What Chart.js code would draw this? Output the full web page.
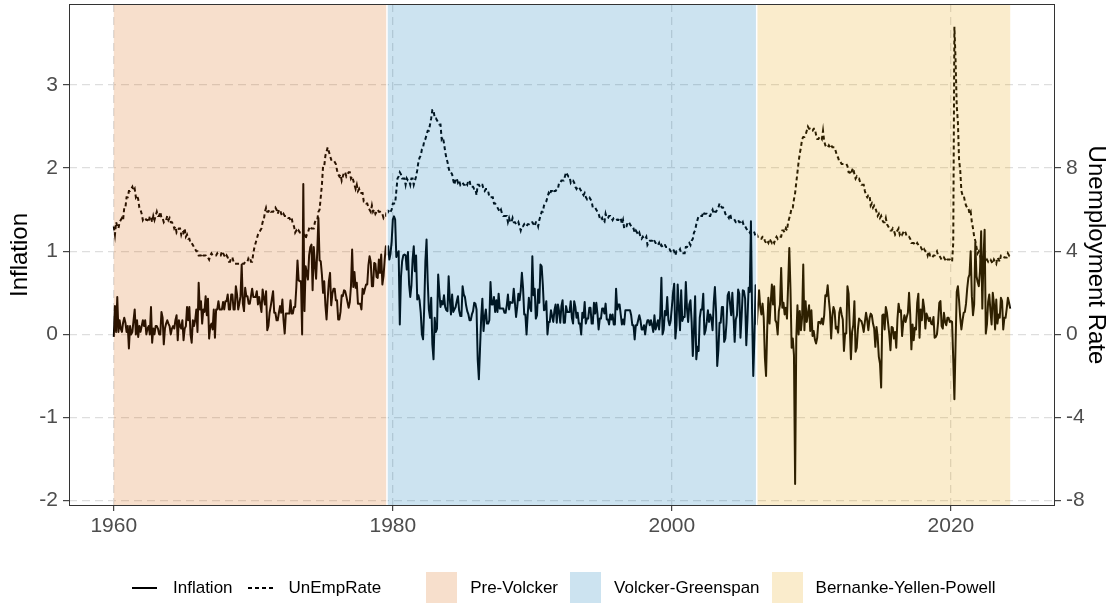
<!DOCTYPE html>
<html>
<head>
<meta charset="utf-8">
<title>Inflation and unemployment by Fed regime</title>
<script src="https://cdn.jsdelivr.net/npm/chart.js@4.4.1/dist/chart.umd.min.js"></script>
<style>
  html, body { margin: 0; padding: 0; background: #fff; }
  #wrap { position: relative; width: 1120px; height: 603px; overflow: hidden; }
  #legend {
    position: absolute; left: 132px; top: 572px; height: 31px;
    display: flex; align-items: center;
    font-family: 'Liberation Sans', Arial, Helvetica, sans-serif; font-size: 17px; color: #000;
    white-space: nowrap;
  }
  .key-line  { width: 25px; height: 2px; margin-right: 16px; }
  .solid     { background: #000; }
  .dashed    { background: repeating-linear-gradient(to right, #000 0 4px, transparent 4px 7px); }
  .key-box   { width: 31px; height: 31px; margin-right: 13px; }
  .lab-line  { margin-right: 15px; }
  .lab-box   { margin-right: 12px; }
</style>
</head>
<body>
<div id="wrap">
  <canvas id="chart"></canvas>
  <div id="legend"></div>
</div>
<script>
// ── Data ──────────────────────────────────────────────────────
// monthly series, first value = Jan 1960
const startYear = 1960;

// monthly CPI change, percent
const inflation = [
  -0.03, 0.34, 0.03, 0.45, 0.03, 0.17, 0.07, 0.03, 0.14, 0.20, 0.14, 0.03,   // 1960
  0.10, -0.17, 0.10, 0.00, 0.03, 0.17, 0.30, 0.00, 0.17, -0.03, 0.10, 0.03,  // 1961
  0.10, 0.17, 0.10, 0.17, 0.00, 0.07, 0.10, 0.00, 0.33, -0.10, 0.07, 0.00,   // 1962
  0.10, 0.10, 0.07, 0.00, 0.00, 0.27, 0.20, -0.12, 0.07, 0.13, 0.17, 0.13,   // 1963
  0.10, 0.00, 0.07, 0.10, 0.07, 0.17, 0.23, -0.07, 0.17, 0.10, 0.07, 0.17,   // 1964
  -0.07, 0.07, 0.10, 0.33, 0.17, 0.33, 0.00, -0.10, 0.17, 0.10, 0.17, 0.30,  // 1965
  0.03, 0.62, 0.30, 0.40, 0.13, 0.30, 0.27, 0.46, 0.23, 0.43, -0.05, 0.10,   // 1966
  0.13, 0.06, 0.30, -0.04, 0.30, 0.30, 0.40, 0.30, 0.30, 0.30, 0.39, 0.30,   // 1967
  0.40, 0.40, 0.48, 0.30, 0.30, 0.48, 0.48, 0.30, 0.30, 0.58, 0.48, 0.30,    // 1968
  0.37, 0.46, 0.84, 0.37, 0.28, 0.56, 0.46, 0.46, 0.37, 0.37, 0.46, 0.55,    // 1969
  0.45, 0.45, 0.45, 0.52, 0.36, 0.45, 0.36, 0.27, 0.54, 0.44, 0.36, 0.52,    // 1970
  0.05, 0.10, 0.26, 0.34, 0.43, 0.52, 0.26, 0.26, 0.17, 0.17, 0.26, 0.34,    // 1971
  0.26, 0.42, 0.17, 0.01, 0.25, 0.25, 0.25, 0.25, 0.41, 0.25, 0.25, 0.33,    // 1972
  0.33, 0.57, 0.89, 0.65, 0.64, 0.64, 0.00, 1.81, 0.28, 0.82, 0.74, 0.66,    // 1973
  0.95, 1.05, 1.08, 0.53, 1.05, 0.84, 0.67, 1.00, 1.40, 0.89, 0.88, 0.72,    // 1974
  0.50, 0.64, 0.35, 0.18, 0.43, 0.64, 0.74, 0.35, 0.49, 0.55, 0.55, 0.41,    // 1975
  0.41, 0.18, 0.18, 0.27, 0.47, 0.46, 0.53, 0.52, 0.46, 0.39, 0.32, 0.39,    // 1976
  0.58, 1.02, 0.57, 0.75, 0.56, 0.62, 0.37, 0.37, 0.37, 0.30, 0.55, 0.49,    // 1977
  0.55, 0.60, 0.60, 0.83, 0.94, 0.87, 0.58, 0.58, 0.86, 0.85, 0.69, 0.68,    // 1978
  0.90, 0.74, 0.96, 0.60, 0.70, 0.90, 1.06, 0.96, 1.06, 0.90, 0.97, 1.12,    // 1979
  1.38, 1.42, 1.38, 0.93, 0.97, 1.00, 0.12, 0.69, 0.88, 0.95, 0.96, 0.95,    // 1980
  0.78, 0.99, 0.60, 0.45, 0.59, 0.90, 1.06, 0.76, 0.95, 0.42, 0.47, 0.41,    // 1981
  0.26, 0.00, -0.06, 0.32, 0.88, 1.14, 0.64, 0.30, 0.20, 0.44, -0.12, -0.30, // 1982
  0.20, 0.03, 0.07, 0.72, 0.51, 0.33, 0.40, 0.36, 0.47, 0.33, 0.29, 0.28,    // 1983
  0.70, 0.42, 0.24, 0.48, 0.27, 0.30, 0.33, 0.40, 0.46, 0.29, 0.22, 0.22,    // 1984
  0.58, 0.48, 0.45, 0.35, 0.28, 0.24, 0.17, 0.17, 0.24, 0.28, 0.38, 0.37,    // 1985
  0.30, -0.30, -0.54, -0.17, 0.20, 0.43, 0.04, 0.20, 0.30, 0.13, 0.13, 0.17, // 1986
  0.63, 0.36, 0.36, 0.45, 0.27, 0.41, 0.27, 0.49, 0.31, 0.31, 0.31, 0.31,    // 1987
  0.26, 0.26, 0.35, 0.48, 0.30, 0.39, 0.38, 0.38, 0.55, 0.38, 0.21, 0.33,    // 1988
  0.49, 0.41, 0.53, 0.74, 0.56, 0.24, 0.24, 0.00, 0.24, 0.44, 0.32, 0.28,    // 1989
  0.94, 0.47, 0.55, 0.19, 0.23, 0.54, 0.38, 0.84, 0.82, 0.60, 0.29, 0.30,    // 1990
  0.40, 0.00, 0.15, 0.15, 0.29, 0.22, 0.15, 0.29, 0.36, 0.14, 0.36, 0.28,    // 1991
  0.14, 0.34, 0.41, 0.14, 0.14, 0.34, 0.27, 0.27, 0.27, 0.40, 0.20, 0.13,    // 1992
  0.40, 0.33, 0.20, 0.26, 0.13, 0.13, 0.00, 0.26, 0.20, 0.39, 0.13, 0.19,    // 1993
  0.19, 0.32, 0.32, 0.13, 0.13, 0.38, 0.25, 0.38, 0.25, 0.06, 0.19, 0.19,    // 1994
  0.31, 0.31, 0.25, 0.37, 0.18, 0.18, 0.12, 0.24, 0.18, 0.24, 0.12, 0.12,    // 1995
  0.55, 0.30, 0.36, 0.36, 0.24, 0.12, 0.18, 0.12, 0.29, 0.29, 0.29, 0.29,    // 1996
  0.29, 0.23, 0.11, 0.11, -0.06, 0.11, 0.11, 0.17, 0.23, 0.17, 0.06, 0.06,   // 1997
  0.11, 0.00, 0.11, 0.17, 0.17, 0.11, 0.17, 0.11, 0.03, 0.23, 0.06, 0.11,    // 1998
  0.17, 0.06, 0.23, 0.68, 0.00, 0.06, 0.28, 0.23, 0.45, 0.17, 0.11, 0.17,    // 1999
  0.33, 0.50, 0.61, -0.05, 0.11, 0.60, 0.32, 0.05, 0.53, 0.16, 0.21, 0.21,   // 2000
  0.63, 0.31, 0.15, 0.36, 0.41, 0.15, -0.26, 0.05, 0.46, -0.30, -0.15, -0.20, // 2001
  0.20, 0.30, 0.30, 0.49, 0.00, 0.05, 0.15, 0.29, 0.15, 0.24, 0.19, 0.05,    // 2002
  0.38, 0.57, 0.28, -0.38, -0.19, 0.14, 0.14, 0.33, 0.33, -0.09, -0.05, 0.14, // 2003
  0.47, 0.51, 0.37, 0.23, 0.50, 0.23, -0.09, 0.18, 0.23, 0.54, 0.49, -0.04,  // 2004
  0.22, 0.53, 0.52, 0.43, -0.13, 0.17, 0.56, 0.51, 1.36, 0.25, -0.50, -0.04, // 2005
  0.59, 0.12, 0.33, 0.53, 0.33, 0.24, 0.37, 0.20, -0.28, -0.50, 0.07, 0.44,  // 2006
  0.13, 0.38, 0.60, 0.36, 0.58, 0.17, 0.14, 0.00, 0.28, 0.36, 0.80, 0.32,    // 2007
  0.38, 0.24, 0.32, 0.19, 0.60, 1.04, 0.55, -0.16, -0.05, -0.25, -1.80, -0.05, // 2008
  0.35, 0.00, 0.28, 0.05, 0.20, 0.84, 0.05, 0.40, 0.15, 0.25, 0.35, 0.04,    // 2009
  0.29, -0.02, 0.04, -0.06, -0.11, -0.04, 0.15, 0.15, 0.13, 0.19, 0.12, 0.23, // 2010
  0.47, 0.46, 0.59, 0.42, 0.27, -0.05, 0.22, 0.33, 0.28, 0.07, 0.09, 0.02,   // 2011
  0.26, 0.32, 0.24, 0.18, -0.20, 0.01, 0.01, 0.58, 0.49, 0.08, -0.30, 0.03,  // 2012
  0.11, 0.40, -0.21, -0.16, 0.06, 0.19, 0.17, 0.16, 0.11, 0.03, 0.15, 0.26,  // 2013
  0.17, 0.05, 0.19, 0.25, 0.23, 0.13, 0.07, -0.15, 0.09, -0.03, -0.27, -0.35, // 2014
  -0.64, 0.23, 0.24, 0.06, 0.33, 0.26, 0.13, 0.00, -0.19, 0.09, 0.08, -0.05, // 2015
  0.03, -0.16, 0.18, 0.37, 0.27, 0.29, -0.02, 0.14, 0.23, 0.15, 0.21, 0.26,  // 2016
  0.50, 0.24, -0.18, 0.12, -0.07, 0.08, 0.06, 0.38, 0.49, -0.04, 0.30, 0.17, // 2017
  0.42, 0.32, 0.07, 0.25, 0.21, 0.16, 0.20, 0.13, 0.12, 0.21, -0.04, -0.03,  // 2018
  0.00, 0.15, 0.38, 0.40, 0.10, 0.07, 0.26, 0.15, 0.11, 0.20, 0.20, 0.15,    // 2019
  0.16, 0.15, -0.30, -0.78, -0.12, 0.51, 0.58, 0.41, 0.20, 0.06, 0.17, 0.26, // 2020
  0.27, 0.37, 0.55, 0.68, 0.72, 1.00, 0.46, 0.23, 0.36, 1.10, 0.70, 0.63,    // 2021
  0.58, 0.76, 1.24, 0.31, 0.92, 1.26, 0.01, 0.12, 0.39, 0.48, 0.28, 0.12,    // 2022
  0.50, 0.37, 0.06, 0.42, 0.13, 0.24, 0.20, 0.44, 0.40, 0.06, 0.20, 0.20,    // 2023
  0.31, 0.44, 0.38, 0.31,                                                    // 2024
];

// civilian unemployment rate, percent (right axis)
const unempRate = [
  5.2, 4.8, 5.4, 5.2, 5.1, 5.4, 5.5, 5.6, 5.5, 6.1, 6.1, 6.6,        // 1960
  6.6, 6.9, 6.9, 7.0, 7.1, 6.9, 7.0, 6.6, 6.7, 6.5, 6.1, 6.0,        // 1961
  5.8, 5.5, 5.6, 5.6, 5.5, 5.5, 5.4, 5.7, 5.6, 5.4, 5.7, 5.5,        // 1962
  5.7, 5.9, 5.7, 5.7, 5.9, 5.6, 5.6, 5.4, 5.5, 5.5, 5.7, 5.5,        // 1963
  5.6, 5.4, 5.4, 5.3, 5.1, 5.2, 4.9, 5.0, 5.1, 5.1, 4.8, 5.0,        // 1964
  4.9, 5.1, 4.7, 4.8, 4.6, 4.6, 4.4, 4.4, 4.3, 4.2, 4.1, 4.0,        // 1965
  4.0, 3.8, 3.8, 3.8, 3.9, 3.8, 3.8, 3.8, 3.7, 3.7, 3.6, 3.8,        // 1966
  3.9, 3.8, 3.8, 3.8, 3.8, 3.9, 3.8, 3.8, 3.8, 4.0, 3.9, 3.8,        // 1967
  3.7, 3.8, 3.7, 3.5, 3.5, 3.7, 3.7, 3.5, 3.4, 3.4, 3.4, 3.4,        // 1968
  3.4, 3.4, 3.4, 3.4, 3.4, 3.5, 3.5, 3.5, 3.7, 3.7, 3.5, 3.5,        // 1969
  3.9, 4.2, 4.4, 4.6, 4.8, 4.9, 5.0, 5.1, 5.4, 5.5, 5.9, 6.1,        // 1970
  5.9, 5.9, 6.0, 5.9, 5.9, 5.9, 6.0, 6.1, 6.0, 5.8, 6.0, 6.0,        // 1971
  5.8, 5.7, 5.8, 5.7, 5.7, 5.7, 5.6, 5.6, 5.5, 5.6, 5.3, 5.2,        // 1972
  4.9, 5.0, 4.9, 5.0, 4.9, 4.9, 4.8, 4.8, 4.8, 4.6, 4.8, 4.9,        // 1973
  5.1, 5.2, 5.1, 5.1, 5.1, 5.4, 5.5, 5.5, 5.9, 6.0, 6.6, 7.2,        // 1974
  8.1, 8.1, 8.6, 8.8, 9.0, 8.8, 8.6, 8.4, 8.4, 8.4, 8.3, 8.2,        // 1975
  7.9, 7.7, 7.6, 7.7, 7.4, 7.6, 7.8, 7.8, 7.6, 7.7, 7.8, 7.8,        // 1976
  7.5, 7.6, 7.4, 7.2, 7.0, 7.2, 6.9, 7.0, 6.8, 6.8, 6.8, 6.4,        // 1977
  6.4, 6.3, 6.3, 6.1, 6.0, 5.9, 6.2, 5.9, 6.0, 5.8, 5.9, 6.0,        // 1978
  5.9, 5.9, 5.8, 5.8, 5.6, 5.7, 5.7, 6.0, 5.9, 6.0, 5.9, 6.0,        // 1979
  6.3, 6.3, 6.3, 6.9, 7.5, 7.6, 7.8, 7.7, 7.5, 7.5, 7.5, 7.2,        // 1980
  7.5, 7.4, 7.4, 7.2, 7.5, 7.5, 7.2, 7.4, 7.6, 7.9, 8.3, 8.5,        // 1981
  8.6, 8.9, 9.0, 9.3, 9.4, 9.6, 9.8, 9.8, 10.1, 10.4, 10.8, 10.8,    // 1982
  10.4, 10.4, 10.3, 10.2, 10.1, 10.1, 9.4, 9.5, 9.2, 8.8, 8.5, 8.3,  // 1983
  8.0, 7.8, 7.8, 7.7, 7.4, 7.2, 7.5, 7.5, 7.3, 7.4, 7.2, 7.3,        // 1984
  7.3, 7.2, 7.2, 7.3, 7.2, 7.4, 7.4, 7.1, 7.1, 7.1, 7.0, 7.0,        // 1985
  6.7, 7.2, 7.2, 7.1, 7.2, 7.2, 7.0, 6.9, 7.0, 7.0, 6.9, 6.6,        // 1986
  6.6, 6.6, 6.6, 6.3, 6.3, 6.2, 6.1, 6.0, 5.9, 6.0, 5.8, 5.7,        // 1987
  5.7, 5.7, 5.7, 5.4, 5.6, 5.4, 5.4, 5.6, 5.4, 5.4, 5.3, 5.3,        // 1988
  5.4, 5.2, 5.0, 5.2, 5.2, 5.3, 5.2, 5.2, 5.3, 5.3, 5.4, 5.4,        // 1989
  5.4, 5.3, 5.2, 5.4, 5.4, 5.2, 5.5, 5.7, 5.9, 5.9, 6.2, 6.3,        // 1990
  6.4, 6.6, 6.8, 6.7, 6.9, 6.9, 6.8, 6.9, 6.9, 7.0, 7.0, 7.3,        // 1991
  7.3, 7.4, 7.4, 7.4, 7.6, 7.8, 7.7, 7.6, 7.6, 7.3, 7.4, 7.4,        // 1992
  7.3, 7.1, 7.0, 7.1, 7.1, 7.0, 6.9, 6.8, 6.7, 6.8, 6.6, 6.5,        // 1993
  6.6, 6.6, 6.5, 6.4, 6.1, 6.1, 6.1, 6.0, 5.9, 5.8, 5.6, 5.5,        // 1994
  5.6, 5.4, 5.4, 5.8, 5.6, 5.6, 5.7, 5.7, 5.6, 5.5, 5.6, 5.6,        // 1995
  5.6, 5.5, 5.5, 5.6, 5.6, 5.3, 5.5, 5.1, 5.2, 5.2, 5.4, 5.4,        // 1996
  5.3, 5.2, 5.2, 5.1, 4.9, 5.0, 4.9, 4.8, 4.9, 4.7, 4.6, 4.7,        // 1997
  4.6, 4.6, 4.7, 4.3, 4.4, 4.5, 4.5, 4.5, 4.6, 4.5, 4.4, 4.4,        // 1998
  4.3, 4.4, 4.2, 4.3, 4.2, 4.3, 4.3, 4.2, 4.2, 4.1, 4.1, 4.0,        // 1999
  4.0, 4.1, 4.0, 3.8, 4.0, 4.0, 4.0, 4.1, 3.9, 3.9, 3.9, 3.9,        // 2000
  4.2, 4.2, 4.3, 4.4, 4.3, 4.5, 4.6, 4.9, 5.0, 5.3, 5.5, 5.7,        // 2001
  5.7, 5.7, 5.7, 5.9, 5.8, 5.8, 5.8, 5.7, 5.7, 5.7, 5.9, 6.0,        // 2002
  5.8, 5.9, 5.9, 6.0, 6.1, 6.3, 6.2, 6.1, 6.1, 6.0, 5.8, 5.7,        // 2003
  5.7, 5.6, 5.8, 5.6, 5.6, 5.6, 5.5, 5.4, 5.4, 5.5, 5.4, 5.4,        // 2004
  5.3, 5.4, 5.2, 5.2, 5.1, 5.0, 5.0, 4.9, 5.0, 5.0, 5.0, 4.9,        // 2005
  4.7, 4.8, 4.7, 4.7, 4.6, 4.6, 4.7, 4.7, 4.5, 4.4, 4.5, 4.4,        // 2006
  4.6, 4.5, 4.4, 4.5, 4.4, 4.6, 4.7, 4.6, 4.7, 4.7, 4.7, 5.0,        // 2007
  5.0, 4.9, 5.1, 5.0, 5.4, 5.6, 5.8, 6.1, 6.1, 6.5, 6.8, 7.3,        // 2008
  7.8, 8.3, 8.7, 9.0, 9.4, 9.5, 9.5, 9.6, 9.8, 10.0, 9.9, 9.9,       // 2009
  9.8, 9.8, 9.9, 9.9, 9.6, 9.4, 9.4, 9.5, 9.5, 9.4, 9.8, 9.3,        // 2010
  9.1, 9.0, 9.0, 9.1, 9.0, 9.1, 9.0, 9.0, 9.0, 8.8, 8.6, 8.5,        // 2011
  8.3, 8.3, 8.2, 8.2, 8.2, 8.2, 8.2, 8.1, 7.8, 7.8, 7.7, 7.9,        // 2012
  8.0, 7.7, 7.5, 7.6, 7.5, 7.5, 7.3, 7.2, 7.2, 7.2, 6.9, 6.7,        // 2013
  6.6, 6.7, 6.7, 6.2, 6.3, 6.1, 6.2, 6.1, 5.9, 5.7, 5.8, 5.6,        // 2014
  5.7, 5.5, 5.4, 5.4, 5.6, 5.3, 5.2, 5.1, 5.0, 5.0, 5.1, 5.0,        // 2015
  4.8, 4.9, 5.0, 5.1, 4.8, 4.9, 4.8, 4.9, 5.0, 4.9, 4.7, 4.7,        // 2016
  4.7, 4.6, 4.4, 4.4, 4.4, 4.3, 4.3, 4.4, 4.3, 4.2, 4.2, 4.1,        // 2017
  4.0, 4.1, 4.0, 4.0, 3.8, 4.0, 3.8, 3.8, 3.7, 3.8, 3.8, 3.9,        // 2018
  4.0, 3.8, 3.8, 3.7, 3.6, 3.6, 3.7, 3.6, 3.5, 3.6, 3.6, 3.6,        // 2019
  3.5, 3.5, 4.4, 14.8, 13.2, 11.0, 10.2, 8.4, 7.9, 6.9, 6.7, 6.7,    // 2020
  6.4, 6.2, 6.1, 6.1, 5.8, 5.9, 5.4, 5.1, 4.7, 4.5, 4.2, 3.9,        // 2021
  4.0, 3.8, 3.6, 3.7, 3.6, 3.6, 3.5, 3.6, 3.5, 3.6, 3.6, 3.5,        // 2022
  3.4, 3.6, 3.5, 3.4, 3.7, 3.6, 3.5, 3.8, 3.8, 3.8, 3.7, 3.7,        // 2023
  3.7, 3.9, 3.8, 3.9,                                                // 2024
];

// Fed chair regimes (decimal years)
const regimeNames  = ['Pre-Volcker', 'Volcker-Greenspan', 'Bernanke-Yellen-Powell'];
const regimeStart  = [1960.0, 1979.58, 2006.08];
const regimeEnd    = [1979.58, 2006.08, 2024.25];
const regimeColors = ['213,94,0', '0,114,178', '230,159,0'];   // drawn at 20% alpha

// axes
const xTicks  = [1960, 1980, 2000, 2020];
const yTicks  = [-2, -1, 0, 1, 2, 3];
const y2Ticks = [-8, -4, 0, 4, 8];
const xRange  = [1956.79, 2027.46];
const yRange  = [-2.0645, 3.9745];
const y2Scale = 4;   // unemployment axis = 4 x inflation axis

// ── Helpers ───────────────────────────────────────────────────
const FONT = "'Liberation Sans', Arial, Helvetica, sans-serif";
const toPoints = arr => arr.map((v, i) => ({ x: startYear + i / 12, y: v }));
const fixedTicks = list => scale => { scale.ticks = list.map(v => ({ value: v })); };

/** Pin an axis box to a fixed size and drop the label overhang padding Chart.js adds. */
const pinBox = (prop, size) => s => {
  s[prop] = size;
  s.paddingTop = s.paddingBottom = s.paddingLeft = s.paddingRight = 0;
};

/** Rectangles for the three regimes, laid over the lines at 20% alpha (like the ggplot layer order). */
const regimeShading = {
  id: 'regimeShading',
  afterDatasetsDraw(chart) {
    const { ctx, chartArea: a, scales: { x } } = chart;
    ctx.save();
    ctx.beginPath();
    ctx.rect(a.left, a.top, a.width, a.height);
    ctx.clip();
    regimeNames.forEach((_, i) => {
      const x0 = x.getPixelForValue(regimeStart[i]);
      const x1 = x.getPixelForValue(regimeEnd[i]);
      ctx.fillStyle = `rgba(${regimeColors[i]},0.2)`;
      ctx.fillRect(x0, a.top, x1 - x0, a.height);
    });
    // white seams between neighbouring regimes
    ctx.strokeStyle = '#fff';
    ctx.lineWidth = 1.5;
    regimeStart.slice(1).forEach(v => {
      const px = x.getPixelForValue(v);
      ctx.beginPath();
      ctx.moveTo(px, a.top);
      ctx.lineTo(px, a.bottom);
      ctx.stroke();
    });
    ctx.restore();
  },
  afterDraw(chart) {
    const { ctx, chartArea: a } = chart;
    ctx.save();
    ctx.strokeStyle = '#333';
    ctx.lineWidth = 1;
    ctx.strokeRect(Math.round(a.left) + 0.5, Math.round(a.top) + 0.5,
                   Math.round(a.width) - 1, Math.round(a.height) - 1);
    ctx.restore();
  },
};

const tickFont = { family: FONT, size: 21 };
const titleFont = { family: FONT, size: 24 };
const gridOpts = { color: '#dedede', lineWidth: 1.3, tickColor: '#333', tickLength: 6, tickWidth: 1.1 };
const borderOpts = { display: false, dash: [8, 5] };

// ── Chart ─────────────────────────────────────────────────────
new Chart(document.getElementById('chart'), {
  type: 'line',
  data: {
    datasets: [
      {
        label: 'Inflation',
        data: toPoints(inflation),
        yAxisID: 'y',
        borderColor: '#000',
        borderWidth: 2,
        borderJoinStyle: 'round',
        pointRadius: 0,
        tension: 0,
      },
      {
        label: 'UnEmpRate',
        data: toPoints(unempRate),
        yAxisID: 'y2',
        borderColor: '#000',
        borderWidth: 2,
        borderDash: [4, 3],
        pointRadius: 0,
        tension: 0,
      },
    ],
  },
  options: {
    animation: false,
    responsive: true,
    maintainAspectRatio: false,
    parsing: false,
    layout: { padding: { top: 4, bottom: 57, left: 0, right: 0 } },
    plugins: { legend: { display: false }, tooltip: { enabled: false } },
    scales: {
      x: {
        type: 'linear', position: 'bottom',
        min: xRange[0], max: xRange[1],
        afterBuildTicks: fixedTicks(xTicks),
        afterFit: pinBox('height', 40),
        grid: { ...gridOpts, tickLength: 5 },
        border: borderOpts,
        ticks: { font: tickFont, color: '#4d4d4d', padding: 3, maxRotation: 0, autoSkip: false, callback: v => String(v) },
      },
      y: {
        type: 'linear', position: 'left',
        min: yRange[0], max: yRange[1],
        afterBuildTicks: fixedTicks(yTicks),
        afterFit: pinBox('width', 69),
        grid: gridOpts,
        border: borderOpts,
        ticks: { font: tickFont, color: '#4d4d4d', padding: 5, callback: v => String(v) },
        title: { display: true, text: 'Inflation', font: titleFont, color: '#000', padding: { top: 6, bottom: 0 } },
      },
      y2: {
        type: 'linear', position: 'right',
        min: yRange[0] * y2Scale, max: yRange[1] * y2Scale,
        afterBuildTicks: fixedTicks(y2Ticks),
        afterFit: pinBox('width', 65),
        grid: { ...gridOpts, drawOnChartArea: false },
        border: borderOpts,
        ticks: { font: tickFont, color: '#4d4d4d', padding: 5, callback: v => String(v) },
        title: { display: true, text: 'Unemployment Rate', font: titleFont, color: '#000', padding: { top: 10, bottom: 0 } },
      },
    },
  },
  plugins: [regimeShading],
});

// ── Legend (HTML, below the panel) ────────────────────────────
const legendEl = document.getElementById('legend');
const lineKeys = [['Inflation', 'solid'], ['UnEmpRate', 'dashed']];
lineKeys.forEach(([label, style], i) => {
  legendEl.insertAdjacentHTML('beforeend',
    `<span class="key-line ${style}"></span><span class="lab-line"${i === 1 ? ' style="margin-right:45px"' : ''}>${label}</span>`);
});
regimeNames.forEach((name, i) => {
  legendEl.insertAdjacentHTML('beforeend',
    `<span class="key-box" style="background:rgba(${regimeColors[i]},0.2)"></span><span class="lab-box">${name}</span>`);
});
</script>
</body>
</html>
